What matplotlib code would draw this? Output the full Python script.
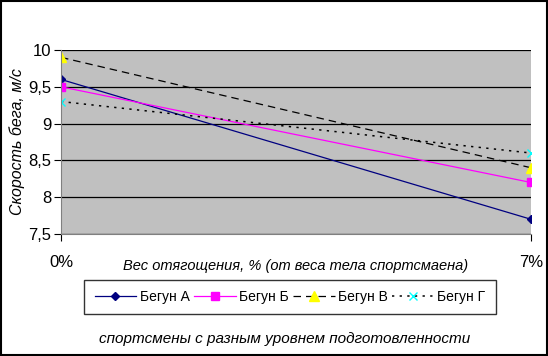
import matplotlib.pyplot as plt
from matplotlib.patches import Rectangle

plt.rcParams['font.family'] = ['Liberation Sans', 'DejaVu Sans']

# data
loads = ['0%', '7%']
runner_a = [9.6, 7.7]
runner_b = [9.5, 8.2]
runner_v = [9.9, 8.4]
runner_g = [9.3, 8.6]
y_ticks = [7.5, 8, 8.5, 9, 9.5, 10]
y_tick_labels = ['7,5', '8', '8,5', '9', '9,5', '10']

fig = plt.figure(figsize=(5.48, 3.56), dpi=100)
ax = fig.add_axes([61 / 548, 1 - 234 / 356, 470 / 548, 184 / 356])
ax.set_facecolor('#c0c0c0')

x = list(range(len(loads)))
ax.plot(x, runner_a, color='#000080', lw=0.9, marker='D', ms=4,
        mfc='#000080', mec='#000080', label='Бегун А')
ax.plot(x, runner_b, color='#ff00ff', lw=0.9, marker='s', ms=6,
        mfc='#ff00ff', mec='#ff00ff', label='Бегун Б')
ax.plot(x, runner_v, color='black', lw=0.9, ls=(0, (6, 4)), marker='^', ms=7,
        mfc='#ffff00', mec='#ffff00', label='Бегун В')
ax.plot(x, runner_g, color='black', lw=1.1, ls=(0, (1.5, 3.5)), marker='x', ms=6,
        mfc='#00ffff', mec='#00ffff', mew=1, label='Бегун Г')

ax.set_xlim(0, 1)
ax.set_ylim(7.5, 10)
ax.set_yticks(y_ticks)
ax.set_yticklabels(y_tick_labels, fontsize=12)
ax.set_xticks(x)
ax.set_xticklabels(loads, fontsize=12)
ax.yaxis.grid(True, color='black', lw=0.9)
ax.set_axisbelow(True)
for s in ['top', 'right']:
    ax.spines[s].set_visible(False)
ax.spines['left'].set_color('#808080')
ax.spines['bottom'].set_color('#808080')
ax.tick_params(axis='x', length=5, pad=10, color='black')
ax.tick_params(axis='y', length=5, pad=2, color='black')

ax.set_ylabel('Скорость бега, м/с', fontsize=11.5, style='italic', labelpad=2)
ax.set_xlabel('Вес отягощения, % (от веса тела спортсмаена)', fontsize=10.5,
              style='italic', labelpad=-8)

leg = fig.legend(loc='center', bbox_to_anchor=(290 / 548, 1 - 297 / 356), ncol=4,
                 fontsize=10, frameon=True, fancybox=False, edgecolor='black',
                 handlelength=3.0, columnspacing=0.3, handletextpad=0.25,
                 borderpad=0.75, borderaxespad=0)
leg.get_frame().set_linewidth(1)

fig.text(285 / 548, 1 - 339 / 356, 'спортсмены с разным уровнем подготовленности',
         fontsize=11, style='italic', ha='center', va='center')

fig.patches.append(Rectangle((0.001, 0.002), 0.997, 0.995, transform=fig.transFigure,
                             fill=False, edgecolor='black', lw=1.5))

fig.savefig('out.png', dpi=100)
